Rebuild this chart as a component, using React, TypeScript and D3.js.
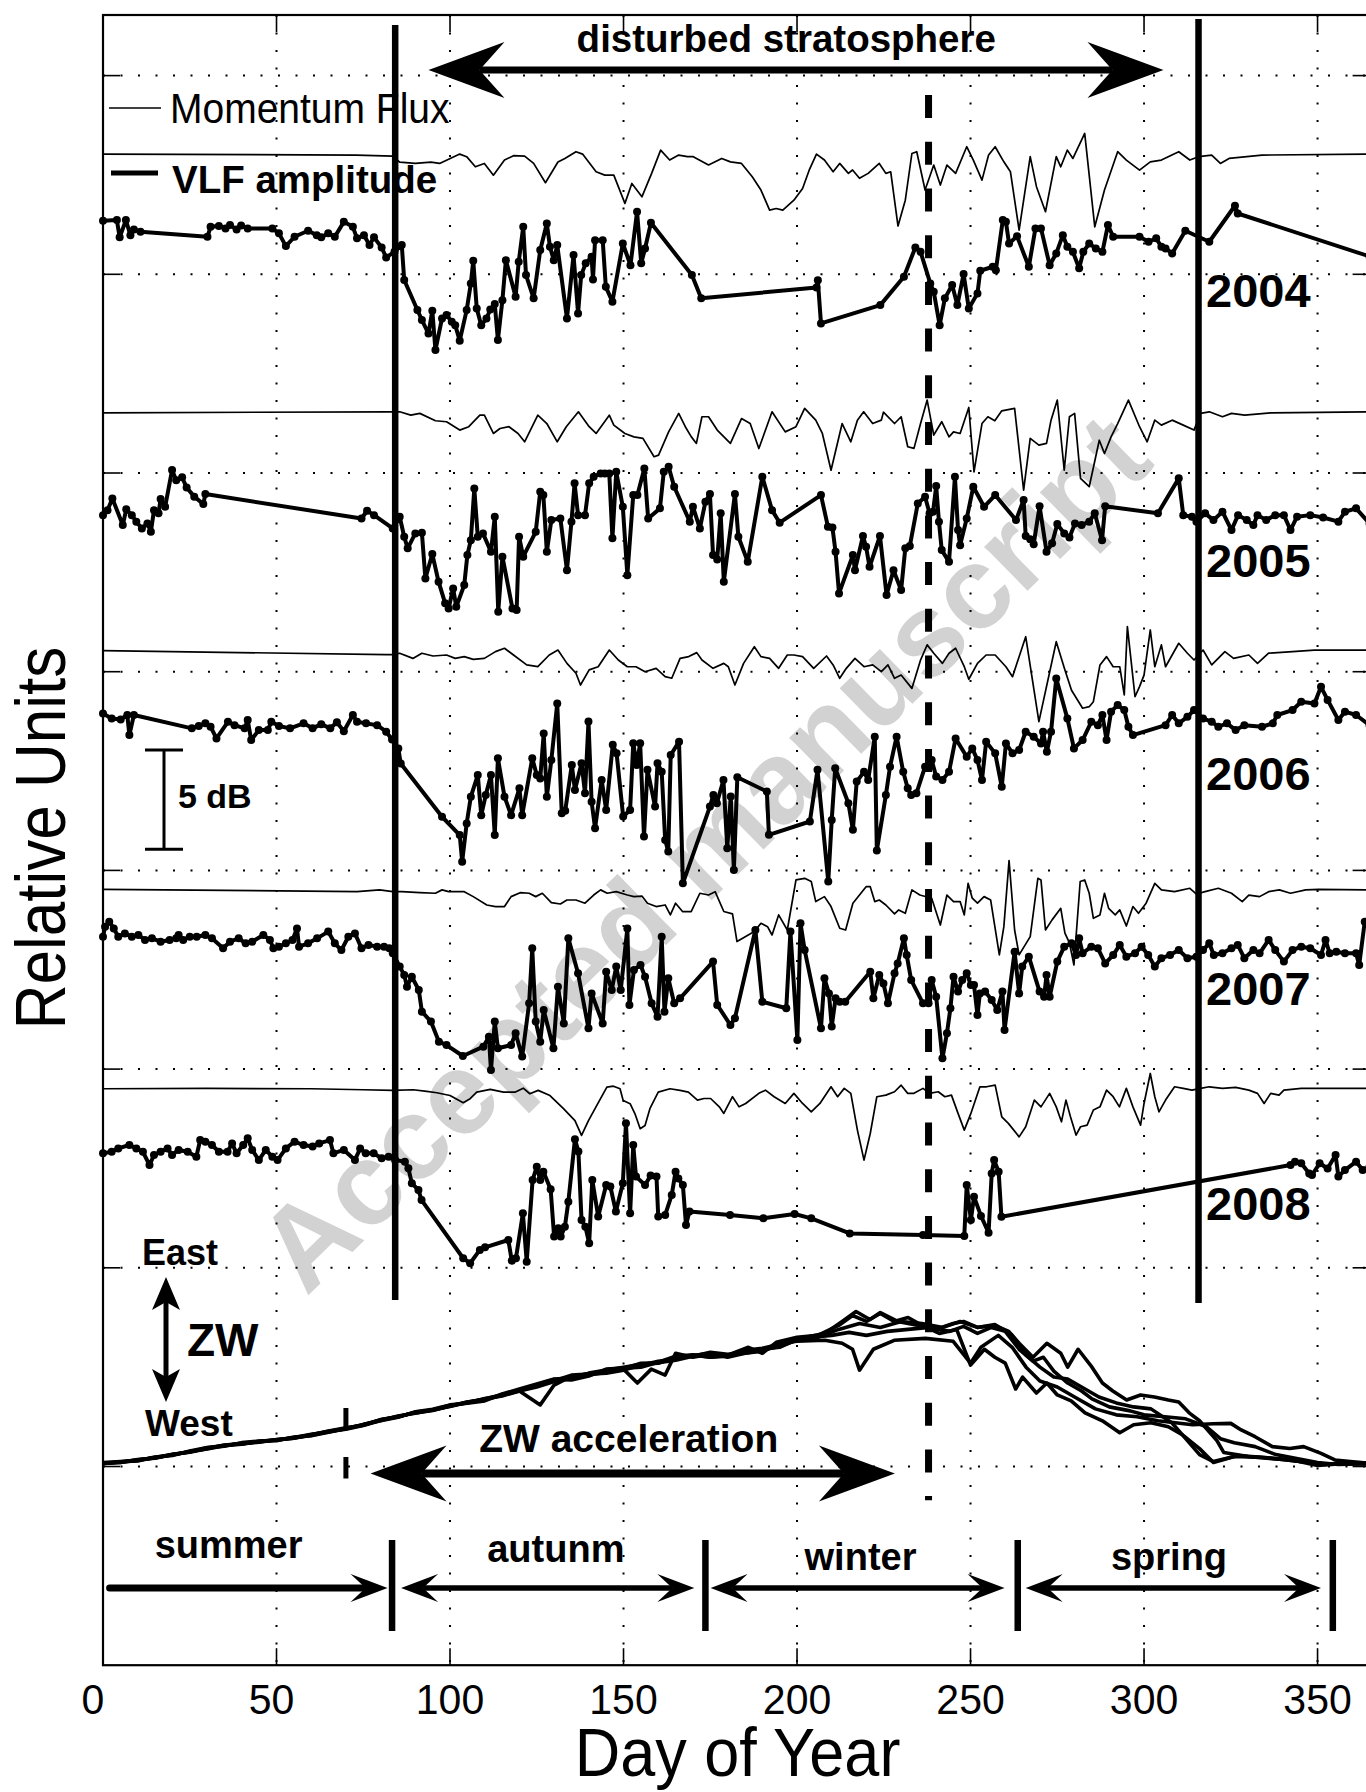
import React from 'react';
import * as d3 from 'd3';

const FONT = "'Liberation Sans', Arial, Helvetica, sans-serif";
const W = 1366;
const H = 1792;

const X_TICKS = [0, 50, 100, 150, 200, 250, 300, 350];
const Y_TICKS = [0, 10, 20, 30, 40, 50, 60, 70];
const YEARS = ['2004', '2005', '2006', '2007', '2008'];
// flat level of each momentum flux trace, relative units
const MF_BASE = [66.05, 53.03, 41.06, 29.05, 19.01];
// year label baselines, relative units
const YEAR_LABEL_Y = [58.35, 44.78, 34.05, 23.23, 12.41];

// momentum flux, [day, deviation from base]
const mf2004 = [[0,0],[73,-0.05],[83.5,-0.1],[85.5,-0.4],[90,-0.47],[94.5,-0.4],[97,-0.47],[102.8,0],[104.8,-0.13],[107.3,-0.64],[109.9,-0.47],[112.5,-1.06],[115.7,-0.3],[118.3,-0.08],[121.5,-0.1],[124.1,-0.47],[127.5,-1.44],[131.1,-0.4],[133.1,-0.22],[136.3,0.12],[138.2,0],[142.1,-0.89],[144.6,-1.06],[147.2,-1.06],[150.4,-2.48],[152.4,-1.48],[155.3,-2.15],[158.1,-0.97],[160.7,0.2],[163.3,-0.3],[165.9,-0.05],[168.4,-0.13],[170.1,-0.13],[174.5,-0.55],[178.3,-0.22],[180.8,-0.39],[184,-0.47],[187.1,-1.14],[189.6,-1.81],[192.1,-2.82],[194,-2.74],[195.9,-2.82],[199.1,-2.32],[201.6,-1.73],[203.5,-0.81],[205.6,0],[207.9,-0.3],[210.4,-0.89],[212.3,-0.47],[214.8,-0.97],[216,-0.8],[218,-1.22],[220.5,-0.97],[223.7,-0.47],[225.6,-0.97],[227,-0.89],[229.1,-3.62],[231.2,-2.32],[233.1,0.03],[234.5,0.12],[236.9,-1.81],[239.4,-0.55],[241.3,-1.56],[243.2,-0.55],[245.7,-0.97],[248.9,0.37],[250.8,-0.3],[253.3,-1.31],[255.2,-0.05],[257.1,0.37],[259.6,-0.39],[261.5,-0.89],[264,-3.83],[267.2,-0.13],[269,-1.64],[271.6,-2.9],[274.7,-0.13],[276,-0.64],[277.9,0.2],[279.5,-0.22],[282.9,1.04],[285.8,-3.66],[288.6,-1.81],[292.4,0.12],[294.9,-0.3],[298.7,-0.81],[301.8,-0.39],[305,-0.3],[310,0.12],[313.2,-0.3],[315.7,-0.13],[319.5,-0.05],[322,-0.47],[324.5,-0.22],[334,-0.05],[365,0]];
const mf2005 = [[0,0],[82.3,0.05],[85.5,0.05],[88.7,-0.12],[91.3,-0.03],[95.8,-0.4],[99,-0.45],[102.8,-0.87],[105.4,-0.7],[108.6,-0.12],[109.9,-0.12],[112.5,-1.04],[114.4,-0.79],[117,-0.7],[119.6,-1.04],[121.5,-1.46],[125.3,-0.12],[127.9,-0.54],[130.9,-1.46],[133.5,-0.7],[137,0.05],[140.1,-0.7],[142.1,-1.04],[145.9,-0.12],[147.2,-0.62],[150.4,-1.04],[153,-1.21],[155.6,-1.29],[158.8,-2.21],[160.1,-2.13],[163,-0.96],[165.9,-0.03],[167.8,-0.7],[169.5,-1.2],[171,-1.54],[172.6,-0.2],[174.5,-0.2],[177,-0.87],[180.8,-1.54],[184,-0.29],[186.5,-0.54],[189,-1.8],[192.8,0.05],[196.6,-0.96],[199.7,-0.7],[202.2,0.22],[205.4,-0.37],[207.3,-1.04],[209.8,-2.89],[213,-0.54],[215.5,-1.46],[217.4,-0.37],[219.2,0.05],[221.8,-0.54],[224.3,-0.37],[224.9,0.03],[228.1,-0.54],[230,-0.2],[231.9,-1.71],[233.7,-1.79],[235.6,-0.54],[237.5,0.64],[239.4,-1.12],[241.7,-0.45],[243.8,-1.21],[245.1,-0.96],[247,-1.04],[249.5,0.27],[251,-2.97],[253.3,-0.54],[255,-0.2],[257,-0.4],[259,0.1],[262.7,0.22],[265.3,-3.89],[267.2,-1.29],[269.7,-1.63],[271.9,-1.54],[273.2,-0.37],[275,0.64],[277,-2.89],[278.5,-0.2],[280,-0.03],[281.7,-3.3],[284.2,-3.72],[287.1,-1.38],[288.6,-2.05],[290.5,-1.21],[292.4,-0.54],[295.5,0.64],[298.7,-0.7],[300.9,-1.46],[303.1,-0.37],[305,-0.62],[308.1,-0.37],[311.3,-0.62],[314.4,-0.87],[316.3,-0.03],[318.8,0.05],[322.6,-0.2],[325.2,-0.03],[329,-0.12],[336.5,0],[365,0.05]];
const mf2006 = [[0,0],[81.6,-0.2],[83.5,-0.2],[85.5,-0.13],[89.3,-0.39],[91.9,-0.13],[95.1,-0.27],[99,-0.22],[101.5,-0.39],[104.1,-0.3],[106.7,-0.44],[109.9,-0.39],[113.1,-0.05],[115.7,0.12],[118.3,-0.22],[122.1,-0.72],[125.3,-0.8],[128.6,-0.22],[131.1,0.03],[133.7,-0.64],[136.3,-1.14],[137.6,-1.73],[140.1,-0.97],[142.7,-0.81],[145.9,0.03],[148.5,-0.47],[151.1,-0.81],[153.6,-0.81],[156.2,-1.06],[159.4,-0.89],[162,-1.31],[163.9,-1.39],[166.3,-0.39],[168.8,-0.3],[171.1,-0.1],[172.6,-0.47],[175.8,-0.89],[178.9,-0.64],[180.2,-0.81],[182.1,-1.73],[184.6,-0.64],[187.7,0.2],[189.6,-0.3],[192.1,-0.39],[194.7,-0.89],[197.2,-0.22],[199.1,-0.22],[201.6,-0.3],[204.8,-0.89],[208.5,-0.27],[210.4,-0.72],[212.3,-1.39],[214.2,-0.89],[216.7,-0.39],[219.3,-0.81],[221.8,-0.72],[224.3,-1.06],[226.2,-0.72],[228.1,-1.39],[230,-1.23],[233.1,-1.9],[235.6,-0.47],[237.5,0.29],[239.4,-0.13],[241.9,-0.64],[243.8,-0.13],[245.7,0.12],[248.2,-0.81],[249.5,-1.44],[252,-0.64],[254.5,-0.22],[257.1,-0.22],[260.2,-0.81],[262.1,-1.31],[265.9,0.7],[269.7,-3.57],[274.7,0.45],[277.2,-0.97],[279.1,-1.99],[282.3,-2.9],[284.2,-2.82],[285.4,-2.57],[287.3,-0.72],[289.2,-0.3],[291.1,-0.81],[293,-0.81],[294.3,-2.23],[295.2,1.21],[297.4,-2.32],[298.7,-1.81],[300,-1.23],[301.8,1.04],[303.1,-0.81],[305,0.29],[306.2,-0.81],[310,0.37],[312.5,-0.13],[314.4,-0.47],[317,0.03],[319.5,-0.72],[323.3,-0.05],[325.8,-0.39],[330.2,-0.22],[332.7,-0.64],[335.9,-0.13],[342.8,-0.05],[349.1,0.03],[365,0.03]];
const mf2007 = [[0,0],[73.2,-0.12],[79.7,-0.03],[83.5,-0.12],[86.1,-0.12],[91.3,-0.17],[95.8,-0.2],[97.7,-0.03],[99.6,-0.12],[104.1,-0.12],[106.7,-0.37],[110.6,-0.79],[113.1,-0.87],[115.7,-0.87],[117.6,-0.37],[120.2,-0.17],[122.8,-0.2],[124.7,-0.37],[126.6,-0.2],[129.2,-0.67],[131.8,-0.74],[133.7,-0.54],[136.3,-0.54],[138.9,-0.7],[141.4,-0.29],[143.4,-0.03],[145.3,-0.2],[147.9,-0.12],[151.1,-0.29],[153,-0.37],[155.3,-0.34],[156.9,-0.7],[159.4,-0.87],[162,-0.79],[163.5,-1.29],[165,-0.7],[167,-1.12],[169.5,-1.12],[172,-0.2],[174.5,-0.29],[176.4,-0.12],[178.9,-1.12],[181.4,-1.24],[182.7,-2.63],[185.2,-2.38],[187.7,-2.13],[189.6,-1.71],[191.5,-1.88],[192.8,-2.3],[194.7,-1.29],[197.2,-2.05],[199.7,0.47],[202.2,0.55],[204.1,0.39],[205.4,-0.62],[207.9,-0.37],[209.8,-0.87],[212.3,-1.96],[214,-2.05],[216.1,-0.7],[218,-0.29],[219.9,0.13],[221.1,0.13],[222.4,-0.62],[223.7,-0.54],[225.6,-0.79],[228.1,-1.24],[229.3,-1.04],[231.2,-1.21],[233.1,-0.03],[235.4,-0.29],[238.8,-0.45],[241.3,-1.8],[243.2,-0.29],[245.1,-0.62],[247,-0.62],[248.2,-1.29],[249.3,0.3],[250.5,-0.45],[252,-0.7],[253.9,-0.37],[255.8,-0.54],[258.3,-3.3],[259.6,-1.88],[261.1,1.44],[262.7,-2.05],[264,-3.3],[267.2,-2.38],[269.4,0.55],[270.3,0.47],[271.6,-2.05],[273.5,-1.54],[276,-0.96],[277.2,-2.21],[278.5,-2.7],[279.8,-3.81],[281.6,0.39],[282.9,0.47],[284.2,-0.2],[285.4,-1.46],[287.3,-1.29],[288.6,-0.2],[289.8,-0.96],[291.7,-1.29],[293,-1.04],[294.9,-1.85],[296.8,-0.87],[298.4,-1.21],[300.6,-0.7],[303.1,0.3],[305,-0.03],[308.8,-0.12],[313.2,0.05],[315.1,-0.24],[317.6,-0.12],[321.4,0.05],[325.2,-0.2],[328.3,-0.62],[330.2,-0.29],[333.3,-0.37],[335.9,-0.12],[339,-0.03],[342.2,-0.2],[346.6,-0.03],[350.4,0],[365,-0.03]];
const mf2008 = [[0,0],[30,0.02],[60,0],[75,-0.05],[83.5,-0.08],[89.4,-0.05],[93.3,-0.13],[96.2,-0.2],[100,-0.34],[103.8,-0.7],[105.8,-0.5],[107.7,-0.17],[111.6,-0.03],[115.4,-0.17],[118.7,-0.17],[121.1,0.03],[123,-0.25],[125.4,-0.08],[128.8,-0.34],[132.7,-1.0],[136,-1.6],[137.9,-2.35],[139.9,-1.6],[142.3,-0.84],[145.2,0.08],[147.1,0.13],[149,0],[149.9,-0.59],[151.9,-0.75],[153.3,-1.26],[154.8,-2.01],[156.2,-1.85],[157.6,-1.0],[160,-0.17],[163.4,0],[166.3,-0.08],[168.7,-0.17],[171.3,-0.57],[173.2,-0.49],[175.1,-0.49],[177.6,-0.91],[178.9,-1.24],[181.4,-0.4],[183.3,-0.91],[185.2,-0.74],[189,-0.23],[190.9,-0.07],[193.4,-0.4],[196.6,-0.74],[199.1,-0.23],[201.6,-0.74],[204.1,-1.16],[206.6,-0.74],[209.8,0.1],[211.7,-0.4],[213.6,0.02],[215.5,-0.23],[217.4,-2.08],[219.3,-3.59],[221.1,-2.25],[223,-0.4],[225.6,-0.32],[228.1,-0.15],[230,0.18],[231.9,-0.23],[233.7,-0.23],[236.3,0.02],[238.2,-0.23],[240.7,-0.15],[242.6,-0.4],[244.5,-0.32],[246.4,-1.24],[248.2,-2.08],[250.1,-1.24],[252.7,0.1],[254.6,0.1],[257.1,0.18],[259,-1.41],[260.9,-1.74],[264,-2.42],[265.9,-1.91],[268.4,-0.57],[270.3,-0.91],[272.8,-0.23],[274.7,-0.91],[276.2,-1.66],[277.5,-0.57],[278.8,-1.41],[280.4,-2.33],[281.7,-1.91],[283.6,-1.83],[285.4,-1.07],[287.3,-0.91],[289.2,-0.07],[291.1,-0.4],[292.9,-0.91],[294.9,0.02],[296.8,-0.91],[299,-1.83],[300,-0.74],[301.8,0.77],[303.1,-0.4],[304.3,-1.16],[306.2,-0.57],[308.8,0.1],[311.3,0.02],[313.8,-0.07],[316.3,0.02],[318.8,0.1],[322.6,0.02],[326.4,0.07],[330.2,-0.07],[332.7,-0.23],[334.6,-0.74],[336.5,-0.23],[338.9,-0.32],[340.3,-0.07],[345.3,0.02],[365,0.02]];

// VLF amplitude, [day, relative units]
const vlf2004 = [[0,62.69],[4,62.73],[4.8,61.86],[6.6,62.73],[7.9,61.96],[8.9,62.26],[10.8,62.14],[30.1,61.89],[31,62.39],[33.4,62.43],[35.3,62.31],[36.6,62.48],[38.5,62.26],[39.8,62.46],[41.7,62.31],[48.8,62.31],[50.7,62.06],[52.7,61.42],[55.2,61.89],[59.1,62.19],[61.6,61.97],[62.9,61.86],[64.9,62.06],[66.8,61.89],[69.4,62.64],[72,62.39],[73.2,61.81],[75.2,61.97],[76.8,61.47],[78.1,61.86],[80.3,61.35],[81.6,60.85],[84,61.13],[86.1,61.47],[86.8,59.71],[90.6,58.2],[91.9,57.7],[93.8,57.02],[94.9,58.17],[95.8,56.19],[97.7,57.78],[99,57.95],[100.5,57.61],[101.5,57.44],[102.8,56.66],[104.8,58.2],[106,59.54],[106.7,60.68],[107.7,58.28],[109,57.44],[110.5,57.78],[111.6,58.23],[112.9,58.5],[113.8,56.69],[115.1,58.7],[116.1,60.71],[118.9,58.87],[119.8,60.63],[121.1,62.39],[121.9,59.96],[124.1,58.79],[126,61.22],[127.9,62.56],[128.8,61.39],[129.9,60.71],[130.9,61.47],[133.7,57.78],[135.6,60.97],[136.9,58.03],[137.8,59.96],[139.1,60.55],[140.8,60.88],[141.2,59.74],[141.8,61.72],[144,61.72],[144.9,59.37],[146.8,58.62],[149.8,61.55],[152,60.46],[153.9,63.15],[155.1,60.55],[156.2,61.3],[157.9,62.59],[169.7,59.96],[172.4,58.79],[205.6,59.34],[206,59.7],[206.9,57.53],[224,58.45],[230.8,59.88],[234.1,61.35],[235.6,61.13],[238.4,59.54],[239.4,59.12],[241.1,57.44],[242.6,58.79],[244.7,59.46],[246.2,58.45],[248,60.01],[249.5,58.28],[252,59.04],[252.8,60.18],[256.4,60.38],[257.3,60.21],[259.3,62.73],[260.2,62.64],[261.1,61.55],[263.4,61.92],[266.8,60.38],[268.7,62.31],[270.3,62.31],[272.8,60.46],[274.7,61.05],[276.6,61.97],[277.9,61.39],[279.5,61.13],[281.3,60.3],[282.5,61.13],[284.2,61.55],[286.1,61.3],[288,61.13],[289.6,62.48],[291.1,61.89],[298.7,61.89],[301.3,61.64],[303.5,61.81],[305,61.39],[306.2,61.3],[308.1,61.05],[311.9,62.19],[318.8,61.64],[326.2,63.45],[327,63.06],[365,60.9]];
const vlf2005 = [[0,47.88],[1.3,48.13],[2.7,48.72],[5.7,47.38],[6.7,48.17],[8.3,47.88],[9.6,47.55],[11.2,47.21],[12.8,47.46],[13.8,47.04],[14.7,48.13],[16,47.97],[16.6,48.69],[17.9,48.3],[19.9,50.15],[21.1,49.64],[22.8,49.78],[24.1,49.27],[26.3,48.81],[28.9,48.44],[29.5,48.94],[74.5,47.71],[76.1,48.1],[78.1,47.88],[83.5,47.21],[85.5,47.8],[86.8,46.79],[87.8,46.21],[90,46.96],[91.9,46.99],[92.9,44.69],[94.9,45.92],[96.7,44.53],[98.6,43.44],[99.6,43.18],[100.9,44.19],[101.8,43.27],[104.1,44.36],[105,45.87],[106,46.62],[107,49.22],[108,46.79],[109.5,46.96],[111.8,46.04],[112.9,47.8],[113.9,43.02],[115.1,45.79],[118,43.18],[119.2,43.1],[119.9,46.79],[121.1,45.79],[124.7,47.04],[126,49.06],[126.9,48.89],[127.9,46.04],[129.2,47.63],[131.8,47.71],[133.7,45.11],[135,47.55],[135.9,49.48],[136.9,47.88],[138.9,47.88],[140.1,49.48],[141.4,49.81],[143.4,49.98],[144.6,49.98],[145.9,49.98],[146.8,46.71],[147.9,50.06],[149.8,48.3],[151.1,44.86],[152.8,48.89],[154,48.89],[156,50.23],[157.1,47.71],[160.5,48.22],[161.6,50.06],[163,50.31],[164.6,49.31],[169.1,47.55],[170,48.3],[172,47.21],[173.6,48.55],[174.9,48.94],[175.8,45.87],[177,45.65],[178,47.97],[178.9,44.53],[182.1,48.94],[183.1,46.79],[185.8,45.53],[190,49.81],[192.8,48.13],[195,47.5],[206.9,48.89],[208.9,47.3],[210.2,47.26],[211.1,46.04],[212.1,43.94],[216.1,45.87],[216.7,45.11],[219,46.83],[219.9,46.29],[220.9,45.28],[223.9,46.83],[225.8,43.86],[227.8,45.11],[230,44.11],[231.2,46.21],[232.5,46.32],[234.8,48.47],[236.9,48.8],[238.2,47.97],[239.2,48.05],[240.1,49.34],[240.9,47.55],[241.7,46.12],[243.8,45.53],[245.5,49.81],[246.4,47.13],[247,46.37],[248.9,47.71],[250.8,49.31],[253.9,48.3],[257.1,48.89],[263.1,47.63],[265.3,48.64],[265.9,46.83],[267.2,46.66],[268.2,46.42],[269.9,48.33],[271.9,46.04],[273.5,46.46],[275,47.43],[277,46.96],[278.5,46.76],[280.1,47.46],[282,47.38],[284.2,47.55],[285.8,47.97],[287.9,46.62],[288.8,48.33],[304,47.97],[310,49.73],[311.3,47.88],[313.8,47.8],[315.1,47.55],[317.6,47.97],[320,47.63],[322.6,48.05],[325.2,47.13],[327.1,47.88],[329.6,47.63],[331.5,47.38],[332.7,47.88],[335.2,47.63],[337.8,47.88],[340.3,47.88],[342.2,47.13],[344.1,47.8],[347.9,47.88],[351.6,47.76],[356,47.55],[357.9,48.05],[361.1,48.22],[365,47.46]];
const vlf2006 = [[0,37.9],[2.5,37.65],[5.1,37.6],[7,37.82],[7.6,36.81],[8.9,37.82],[25.6,37.15],[27.6,37.27],[29.5,37.4],[31,37.23],[32.7,36.64],[36,37.48],[37.9,37.31],[40.8,37.15],[41.7,37.57],[42.7,36.56],[44.9,37.06],[47.5,37.06],[48.5,37.48],[50.7,37.27],[53.9,37.15],[57.8,37.4],[60.4,37.15],[62.9,37.36],[65.5,37.15],[67.4,37.46],[69.4,37.0],[72,37.82],[73.2,37.48],[75.8,37.4],[79,37.31],[81.6,36.98],[83.3,36.59],[85.1,36.14],[85.8,35.38],[97.7,32.7],[102.8,31.78],[103.5,30.44],[104.8,32.36],[106,33.71],[108,34.8],[109,32.78],[110.3,33.79],[111.8,34.8],[112.9,31.78],[113.8,35.64],[115.7,33.71],[117.6,32.78],[120,34.13],[120.8,32.78],[123.7,35.64],[125,34.8],[126,34.63],[127,36.89],[127.9,33.71],[129.2,35.55],[130.9,38.4],[132.2,32.88],[133.2,33.0],[135.1,35.31],[136,34.05],[137.9,35.39],[138.9,33.88],[139.9,37.49],[140.8,33.46],[141.8,32.12],[143.7,34.55],[145,33.04],[146.9,36.32],[148,35.9],[149.9,32.71],[151.9,33.04],[152.8,36.4],[153.8,35.31],[154.8,36.4],[155.9,31.7],[156.9,35.06],[159.1,33.21],[159.8,35.39],[161,34.97],[162,31.53],[162.9,30.95],[163.6,35.81],[166,36.48],[167.1,29.35],[174.9,33.21],[175.9,33.8],[176.9,33.38],[178.8,34.55],[179.9,31.12],[180.9,33.72],[181.8,30.02],[182.8,34.69],[191.3,33.97],[191.9,31.79],[203.7,32.46],[205.9,35.06],[209,29.44],[210,32.54],[211,35.14],[214.8,33.38],[216.1,32.04],[217.2,34.47],[219.3,34.96],[220.5,34.55],[222.4,36.73],[223,31.0],[225.6,33.79],[226.8,35.22],[228.7,36.73],[230.6,34.96],[231.9,34.13],[232.9,33.79],[234.4,33.88],[236.9,35.22],[238.8,35.55],[240.1,34.72],[241.9,34.55],[243.8,34.96],[245.7,36.64],[248.9,35.72],[250.5,36.14],[252,35.55],[253.3,34.55],[254.5,36.47],[257.1,35.89],[259,34.21],[260.2,36.39],[262.1,35.89],[264,36.06],[265.9,36.98],[268.2,36.73],[270.3,36.39],[270.9,36.98],[272,35.97],[273.2,36.98],[274.7,39.66],[277.9,37.65],[279.8,36.14],[282.3,36.56],[284.8,37.48],[286.7,37.31],[288,37.82],[289.2,36.56],[290.5,37.99],[292.4,38.32],[294.3,38.07],[295.5,37.23],[296.8,36.81],[306.2,37.31],[308.1,37.82],[310,37.4],[312.5,37.73],[314.4,38.07],[317,37.65],[319.5,37.48],[321.4,37.23],[323.9,37.4],[326.4,37.06],[328.9,37.31],[334,37.23],[337.1,37.4],[338.4,37.82],[342.8,38.07],[345.3,38.49],[349.1,38.4],[351,39.24],[352.9,38.58],[356,37.57],[357.9,37.99],[361.1,37.82],[365,37.31]];
const vlf2007 = [[0,26.66],[0.6,27.17],[1.8,27.42],[3.1,27.08],[4.4,26.66],[6.3,26.83],[8.3,26.66],[10.2,26.75],[12.1,26.5],[14.1,26.58],[16.6,26.41],[19.2,26.5],[21.1,26.58],[21.8,26.75],[23.1,26.5],[25,26.66],[27,26.66],[29.5,26.75],[31.4,26.58],[34.6,26.08],[36.6,26.41],[39.1,26.58],[41.1,26.33],[43,26.41],[46.2,26.75],[48.1,26.5],[49.1,26.08],[50.7,26.16],[52.7,26.33],[54.6,26.5],[55.9,27.08],[56.5,26.16],[59.1,26.33],[61.7,26.58],[64.9,26.92],[66.8,26.33],[68.7,25.99],[70.7,26.66],[72.6,26.83],[74.5,26.08],[76.5,26.25],[79,26.16],[81,26.16],[82.5,26.08],[83.5,25.83],[85.5,25.16],[86.8,24.74],[87.6,24.15],[89,24.65],[91,23.98],[91.9,22.89],[94.5,22.39],[96.8,21.38],[99,21.21],[103.7,20.66],[109.6,21.13],[111.2,21.63],[111.8,19.95],[112.9,22.39],[113.8,21.05],[117.6,21.21],[118.9,21.8],[120.8,20.63],[122.8,23.31],[123.7,26.08],[124.7,22.39],[126,21.38],[127,22.97],[129.8,21.05],[131.1,24.15],[132.8,22.3],[134.1,26.58],[136.9,24.82],[139.9,22.05],[140.8,23.81],[144,22.3],[145,24.9],[146.6,23.98],[147.9,25.16],[149.2,23.98],[151.1,27.08],[151.7,23.23],[153,24.99],[154.9,25.24],[156.2,24.65],[158.1,23.31],[159.8,22.64],[161,26.66],[161.8,22.89],[162.9,24.57],[164.6,23.31],[166.3,23.56],[175.8,25.41],[177,23.23],[180.8,22.22],[182.1,22.56],[188,27.0],[190,23.39],[196.9,23.06],[198.1,26.92],[200.1,21.46],[201,27.34],[202.2,25.99],[206.9,22.05],[207.9,24.57],[209.2,23.81],[210,22.14],[211.1,23.56],[212.3,23.39],[213.9,23.39],[221.1,24.9],[222,23.56],[223.7,24.73],[224.9,24.31],[226.2,23.31],[228.1,24.82],[229,25.32],[230.8,26.58],[231.6,25.74],[232.9,24.48],[236.3,23.31],[237.9,23.31],[238.8,24.48],[240.1,23.64],[241.9,20.54],[243.2,21.8],[244.2,23.06],[245.1,24.65],[246.4,23.9],[247.6,24.48],[248.9,24.82],[250.1,24.23],[251,24.23],[252,22.72],[252.7,23.81],[254.2,23.9],[256.1,23.48],[257.7,22.97],[259.2,23.9],[259.8,21.97],[262.7,25.91],[264,23.81],[264.9,25.16],[266.8,25.66],[269.9,23.9],[271.2,23.64],[271.9,24.73],[272.8,23.64],[275,25.41],[277,26.16],[279.1,26.33],[280.4,25.74],[281.3,26.58],[282.3,25.83],[284.8,26.16],[286.7,26.08],[288.8,25.32],[291.1,25.74],[293,26.25],[294.9,25.66],[297.4,25.83],[299.3,26.16],[301.2,25.74],[303.1,25.16],[305,25.58],[307.5,25.74],[310,25.99],[312.5,25.58],[315.1,25.66],[317,25.99],[318.8,26.33],[320.1,25.74],[322.6,25.83],[325.2,26.08],[327,26.25],[328.9,25.58],[331.5,25.99],[333.3,25.83],[335.9,26.5],[337.8,25.99],[340.3,25.41],[342.8,25.99],[345.3,26.16],[347.9,26.08],[351,25.74],[352.3,26.5],[353.5,25.83],[355.4,25.91],[357.9,25.83],[361.1,25.83],[362,25.24],[363.6,27.42]];
const vlf2008 = [[0,15.76],[2.5,15.84],[4.4,16.01],[7.6,16.18],[9.6,16.01],[11.5,15.84],[13.4,15.17],[14.7,15.68],[16.6,15.84],[18.6,16.01],[19.9,15.68],[21.8,15.93],[24.4,15.84],[26.9,15.59],[28,16.43],[29.5,16.35],[31.4,16.18],[33.4,15.84],[35.9,15.84],[37.2,16.26],[38.5,15.76],[40.4,16.18],[41.7,16.52],[43,15.93],[44.9,15.42],[46.9,15.93],[48.8,15.59],[50.3,15.42],[52.7,16.01],[55.2,16.35],[57.8,16.18],[60.4,16.1],[62.3,16.26],[65.4,16.43],[66.4,15.76],[69.4,15.93],[72.6,15.43],[74.1,16.0],[75.7,15.76],[78,15.76],[80.3,15.51],[82.3,15.59],[84.2,15.43],[87,15.34],[88,15.01],[89,14.25],[90.9,13.92],[91.8,13.41],[103.8,10.48],[105.8,10.23],[108.6,10.9],[110.1,11.03],[116.8,11.4],[117.8,10.36],[119,10.48],[121,12.74],[122.1,10.31],[123.8,14.42],[125,15.09],[126,14.42],[126.9,14.84],[129,13.95],[130,11.57],[131.2,11.99],[131.9,11.57],[133.1,12.07],[134.1,13.33],[136,16.47],[137,15.85],[137.9,12.41],[139,12.07],[140.1,11.23],[141,14.42],[142.7,12.58],[145,14.17],[146.2,14.09],[147.8,12.83],[149.8,14.25],[150.7,17.27],[151.9,12.74],[152.8,16.18],[153.6,14.59],[156.2,14.17],[157.8,14.64],[159.5,14.59],[160,12.58],[162,12.66],[163.9,13.67],[165,14.84],[165.8,14.5],[167.1,14.17],[168,12.16],[169,12.83],[180.7,12.66],[190.3,12.49],[199.3,12.71],[204.1,12.49],[215.2,11.73],[236.3,11.65],[248.2,11.6],[248.9,14.17],[250.1,12.41],[251,13.58],[253,12.61],[255.2,11.77],[256.1,14.75],[256.8,15.42],[258.1,14.84],[258.9,12.57],[342.2,15.17],[343.5,15.34],[345.3,15.26],[347.6,14.75],[348.4,14.67],[350.6,15.26],[352.9,15.0],[355.2,15.68],[356,14.59],[357.9,14.92],[361.1,15.34],[363,14.92],[365,15.09]];

// zonal wind, [day, relative units]
const zw1 = [[0,0.15],[5,0.2],[10,0.35],[15,0.42],[20,0.6],[25,0.72],[30,0.9],[35,1.08],[40,1.15],[45,1.22],[50,1.35],[55,1.42],[60,1.6],[65,1.78],[70,1.95],[75,2.08],[80,2.35],[85,2.52],[90,2.7],[95,2.82],[100,3.05],[105,3.25],[110,3.4],[115,3.55],[120,3.8],[126,3.1],[130,4.1],[135,4.55],[140,4.6],[145,4.75],[150,4.9],[154,4.2],[158,4.9],[162,4.6],[165,5.7],[170,5.5],[175,5.65],[180,5.6],[186,6.0],[190,5.7],[194,6.25],[200,6.5],[206,6.6],[212,7.1],[216,7.6],[220,7.3],[224,7.7],[228,7.3],[232,7.5],[236,7.1],[241,6.7],[246,6.9],[250,5.1],[254,5.9],[257,5.5],[260,5.2],[263,3.9],[265,4.5],[269,3.7],[272,4.2],[275,3.6],[279,3.3],[283,2.7],[288,2.3],[293,1.7],[297,2.1],[302,2.2],[307,2.0],[311,1.6],[316,0.9],[320,0.2],[327,0.55],[335,0.45],[345,0.25],[352,0.1],[358,0.2],[365,0.18]];
const zw2 = [[0,0.2],[5,0.25],[10,0.3],[15,0.48],[20,0.55],[25,0.78],[30,0.95],[35,1.02],[40,1.2],[45,1.28],[50,1.3],[55,1.48],[60,1.55],[65,1.72],[70,1.9],[75,2.12],[80,2.3],[85,2.48],[90,2.75],[95,2.88],[100,3.1],[105,3.18],[110,3.3],[115,3.65],[120,3.9],[125,4.15],[130,4.4],[135,4.45],[140,4.7],[145,4.85],[150,5.0],[155,5.15],[160,5.2],[165,5.5],[170,5.6],[175,5.5],[180,5.55],[185,5.8],[190,5.9],[195,6.0],[200,6.4],[208,6.7],[213,7.3],[217,7.8],[221,7.4],[224,7.75],[229,7.3],[235,7.1],[240,6.9],[245,7.2],[248,7.3],[252,7.0],[257,7.1],[261,6.8],[264,6.2],[268,5.5],[272,6.2],[276,5.7],[278,5.0],[281,5.9],[285,5.0],[288,4.2],[291,3.8],[295,3.35],[299,3.6],[303,3.5],[307,3.35],[310,3.25],[313,2.7],[316,2.3],[321,1.3],[323,0.7],[330,0.5],[340,0.35],[350,0.15],[365,0.12]];
const zw3 = [[0,0.14],[5,0.24],[10,0.28],[15,0.46],[20,0.6],[25,0.74],[30,0.92],[35,1.06],[40,1.12],[45,1.26],[50,1.32],[55,1.46],[60,1.62],[65,1.74],[70,1.92],[75,2.1],[80,2.36],[85,2.5],[90,2.72],[95,2.86],[100,3.02],[105,3.22],[110,3.38],[115,3.62],[120,3.82],[125,4.05],[130,4.32],[135,4.6],[140,4.65],[145,4.7],[150,4.85],[155,5.1],[160,5.3],[165,5.4],[170,5.58],[175,5.7],[180,5.5],[185,5.7],[190,5.8],[195,6.2],[200,6.3],[208,6.35],[213,6.2],[216,5.9],[218,4.85],[222,5.9],[228,6.35],[237,6.45],[245,6.3],[250,5.2],[253,6.0],[258,6.6],[262,6.0],[266,5.0],[270,4.3],[275,4.0],[280,3.5],[286,2.9],[292,2.6],[298,2.5],[304,2.3],[309,2.2],[314,2.1],[320,2.15],[325,2.17],[328,1.84],[332,1.5],[337,1.0],[342,0.91],[346,1.0],[351,0.66],[355,0.33],[365,0.15]];
const zw4 = [[0,0.18],[5,0.2],[10,0.32],[15,0.44],[20,0.58],[25,0.76],[30,0.88],[35,1.04],[40,1.18],[45,1.24],[50,1.36],[55,1.44],[60,1.56],[65,1.76],[70,1.88],[75,2.06],[80,2.32],[85,2.54],[90,2.68],[95,2.84],[100,3.08],[105,3.2],[110,3.42],[115,3.58],[120,3.85],[125,4.12],[130,4.38],[135,4.35],[140,4.55],[145,4.9],[150,4.95],[155,5.0],[160,5.25],[165,5.55],[170,5.62],[175,5.5],[180,5.6],[185,5.85],[190,5.95],[195,6.15],[200,6.45],[210,6.6],[215,6.75],[220,6.6],[226,6.8],[232,6.9],[238,7.0],[244,6.8],[248,7.05],[252,6.7],[256,7.0],[260,6.8],[264,5.9],[268,5.3],[271,5.5],[274,4.8],[278,4.2],[282,3.8],[285,3.4],[290,3.0],[296,2.8],[300,2.6],[306,2.5],[312,2.4],[318,2.0],[322,1.4],[326,1.2],[332,1.0],[338,0.6],[344,0.4],[350,0.2],[356,0.1],[365,0.14]];
const zw5 = [[0,0.16],[5,0.23],[10,0.34],[15,0.43],[20,0.62],[25,0.73],[30,0.94],[35,1.07],[40,1.14],[45,1.27],[50,1.34],[55,1.43],[60,1.6],[65,1.77],[70,1.9],[75,2.09],[80,2.34],[85,2.49],[90,2.74],[95,2.83],[100,3.04],[105,3.24],[110,3.36],[115,3.59],[120,3.8],[125,4.0],[130,4.28],[135,4.52],[140,4.68],[145,4.72],[150,4.92],[155,5.2],[160,5.22],[165,5.35],[170,5.55],[175,5.75],[180,5.65],[185,5.7],[190,5.85],[195,6.05],[200,6.35],[206,6.5],[212,6.9],[218,7.2],[224,7.0],[230,7.3],[236,7.2],[242,7.0],[247,7.3],[252,7.0],[257,7.15],[262,6.6],[266,5.6],[270,5.0],[274,4.5],[278,4.4],[283,3.9],[287,3.5],[292,3.2],[297,3.0],[302,2.9],[308,2.2],[312,1.4],[316,0.6],[320,0.25],[326,0.5],[334,0.45],[342,0.35],[350,0.05],[358,0.15],[365,0.16]];

const MF = [mf2004, mf2005, mf2006, mf2007, mf2008];
const VLF = [vlf2004, vlf2005, vlf2006, vlf2007, vlf2008];
const ZW = [zw1, zw2, zw3, zw4, zw5];

const SEASONS = ['summer', 'autunm', 'winter', 'spring'];
const SEASON_BOUNDS = [83.3, 173.6, 263.6, 354.4];

type Pt = [number, number];

// notched arrow head pointing along (dx, dy)
function headPoints(tx: number, ty: number, dx: number, dy: number, len: number, half: number, notch: number) {
  const px = -dy, py = dx;
  const pts: Pt[] = [
    [tx, ty],
    [tx - dx * len + px * half, ty - dy * len + py * half],
    [tx - dx * notch, ty - dy * notch],
    [tx - dx * len - px * half, ty - dy * len - py * half],
  ];
  return pts.map(p => p.join(',')).join(' ');
}

function HArrow({ x1, x2, y, both, len, half, notch, sw }: any) {
  const start = both ? x1 + notch : x1;
  return <g>
    <line x1={start} x2={x2 - notch} y1={y} y2={y} stroke="#000" strokeWidth={sw} strokeLinecap={both ? 'butt' : 'round'} />
    <polygon points={headPoints(x2, y, 1, 0, len, half, notch)} fill="#000" />
    {both ? <polygon points={headPoints(x1, y, -1, 0, len, half, notch)} fill="#000" /> : null}
  </g>;
}

// regular text, slightly stretched vertically like the original export
function Tall({ x, y, size, sy, anchor, rotate, children }: any) {
  const t = `translate(${x},${y})${rotate ? ` rotate(${rotate})` : ''} scale(1,${sy})`;
  return <text transform={t} textAnchor={anchor || 'start'} style={{ fontFamily: FONT, fontSize: size }}>{children}</text>;
}

export default function App() {
  const x = d3.scaleLinear().domain([0, 365]).range([103, 1369.6]);
  const y = d3.scaleLinear().domain([-10, 73.05]).range([1665.2, 15]);
  const [x0, x1] = x.range();
  const [yb, yt] = y.range();
  const line = d3.line<number[]>().x(d => x(d[0])).y(d => y(d[1]));
  const tick = 17;

  const bold = { fontFamily: FONT, fontWeight: 700 };

  return <svg width={W} height={H} style={{ position: 'absolute', left: 0, top: 0, background: '#fff' }}>
    <rect width={W} height={H} fill="#fff" />

    {/* watermark */}
    <text transform="translate(703,852) rotate(-44.4)" textAnchor="middle" dominantBaseline="central"
      style={{ ...bold, fontSize: 117 }} fill="#d2d2d2">Accepted manuscript</text>

    {/* dotted grid */}
    <g stroke="#000" strokeWidth={2} strokeDasharray="2 15.5">
      {X_TICKS.filter(t => t > 0).map(t => <line key={'gx' + t} x1={x(t)} x2={x(t)} y1={yt} y2={yb} />)}
      {Y_TICKS.map(t => <line key={'gy' + t} x1={x0} x2={x1} y1={y(t)} y2={y(t)} />)}
    </g>

    {/* ticks */}
    <g stroke="#000" strokeWidth={1.6}>
      {X_TICKS.map(t => <g key={'tx' + t}>
        <line x1={x(t)} x2={x(t)} y1={yb} y2={yb - tick} />
        <line x1={x(t)} x2={x(t)} y1={yt} y2={yt + tick} />
      </g>)}
      {Y_TICKS.map(t => <g key={'ty' + t}>
        <line x1={x0} x2={x0 + tick} y1={y(t)} y2={y(t)} />
        <line x1={x1} x2={x1 - tick} y1={y(t)} y2={y(t)} />
      </g>)}
    </g>

    {/* zonal wind */}
    <g fill="none" stroke="#000" strokeWidth={3.6} strokeLinejoin="round">
      {ZW.map((s, i) => <path key={'zw' + i} d={line(s) || ''} />)}
    </g>

    {/* momentum flux */}
    <g fill="none" stroke="#000" strokeWidth={1.7} strokeLinejoin="round">
      {MF.map((s, i) => <path key={'mf' + i} d={line(s.map(d => [d[0], d[1] + MF_BASE[i]])) || ''} />)}
    </g>

    {/* VLF amplitude */}
    {VLF.map((s, i) => <g key={'vlf' + i}>
      <path d={line(s) || ''} fill="none" stroke="#000" strokeWidth={4} strokeLinejoin="round" />
      {s.map((d, j) => <circle key={j} cx={x(d[0])} cy={y(d[1])} r={4} fill="#000" />)}
    </g>)}

    {/* legend */}
    <line x1={109} x2={161} y1={108} y2={108} stroke="#000" strokeWidth={1.7} />
    <Tall x={170} y={123} size={39} sy={1.08}>Momentum Flux</Tall>
    <line x1={111} x2={158} y1={173} y2={173} stroke="#000" strokeWidth={5} />
    <text x={172} y={193} style={{ ...bold, fontSize: 38.5 }}>VLF amplitude</text>

    {/* event lines */}
    <line x1={x(84.2)} x2={x(84.2)} y1={y(72.55)} y2={y(8.38)} stroke="#000" strokeWidth={6.5} />
    <line x1={x(315.7)} x2={x(315.7)} y1={y(72.85)} y2={y(8.23)} stroke="#000" strokeWidth={6.5} />
    <line x1={x(237.9)} x2={x(237.9)} y1={y(69.02)} y2={y(-1.7)} stroke="#000" strokeWidth={7} strokeDasharray="23 23.7" />
    <line x1={x(70)} x2={x(70)} y1={y(2.95)} y2={y(-0.6)} stroke="#000" strokeWidth={5} strokeDasharray="22 27" />

    {/* disturbed stratosphere */}
    <HArrow x1={x(93.8)} x2={x(305.6)} y={y(70.28)} both len={76} half={28} notch={51} sw={7} />
    <text x={x(196.9)} y={52} textAnchor="middle" style={{ ...bold, fontSize: 38.5 }}>disturbed stratosphere</text>

    {/* year labels */}
    {YEARS.map((t, i) => <text key={t} x={1206} y={y(YEAR_LABEL_Y[i])} style={{ ...bold, fontSize: 47 }}>{t}</text>)}

    {/* 5 dB scale */}
    <g stroke="#000" strokeWidth={3}>
      <line x1={164} x2={164} y1={y(36.06)} y2={y(31.06)} />
      <line x1={145} x2={183} y1={y(36.06)} y2={y(36.06)} />
      <line x1={145} x2={183} y1={y(31.06)} y2={y(31.06)} />
    </g>
    <text x={178} y={808} style={{ ...bold, fontSize: 34 }}>5 dB</text>

    {/* ZW direction */}
    <text x={142} y={1265} style={{ ...bold, fontSize: 36 }}>East</text>
    <line x1={166} x2={166} y1={1277 + 24} y2={1402 - 24} stroke="#000" strokeWidth={5} />
    <polygon points={headPoints(166, 1277, 0, -1, 33, 14, 25)} fill="#000" />
    <polygon points={headPoints(166, 1402, 0, 1, 33, 14, 25)} fill="#000" />
    <text x={187} y={1356} style={{ ...bold, fontSize: 46 }}>ZW</text>
    <text x={145} y={1436} style={{ ...bold, fontSize: 37 }}>West</text>

    {/* ZW acceleration */}
    <HArrow x1={x(77.1)} x2={x(228.2)} y={y(-0.35)} both len={76} half={28} notch={51} sw={8} />
    <text x={x(151.5)} y={1452} textAnchor="middle" style={{ ...bold, fontSize: 39 }}>ZW acceleration</text>

    {/* seasons */}
    {SEASON_BOUNDS.map(d => <line key={'sb' + d} x1={x(d)} x2={x(d)} y1={y(-3.7)} y2={y(-8.28)} stroke="#000" strokeWidth={6.5} />)}
    <HArrow x1={x(1.9)} x2={x(82)} y={y(-6.11)} len={37} half={14} notch={22} sw={7} />
    <HArrow x1={x(85.9)} x2={x(170.4)} y={y(-6.11)} both len={37} half={14} notch={22} sw={5.5} />
    <HArrow x1={x(175.1)} x2={x(259.8)} y={y(-6.11)} both len={37} half={14} notch={22} sw={5.5} />
    <HArrow x1={x(265.9)} x2={x(351)} y={y(-6.11)} both len={37} half={14} notch={22} sw={5.5} />
    {SEASONS.map((s, i) => <text key={s} x={x([36.2, 130.5, 218.3, 307.2][i])} y={[1558, 1562, 1570, 1570][i]}
      textAnchor="middle" style={{ ...bold, fontSize: 38 }}>{s}</text>)}

    {/* frame */}
    <rect x={x0} y={yt} width={x1 - x0} height={yb - yt} fill="none" stroke="#000" strokeWidth={2.2} />

    {/* axis labels */}
    {X_TICKS.map(t => <Tall key={'xl' + t} x={x(t) - (t === 0 ? 10 : t === 50 ? 5 : 0)} y={1714} size={41} sy={1.06} anchor="middle">{t}</Tall>)}
    <Tall x={(576 + 899) / 2} y={1776} size={63} sy={1.1} anchor="middle">Day of Year</Tall>
    <Tall x={65} y={838} size={62} sy={1.14} anchor="middle" rotate={-90}>Relative Units</Tall>
  </svg>;
}
